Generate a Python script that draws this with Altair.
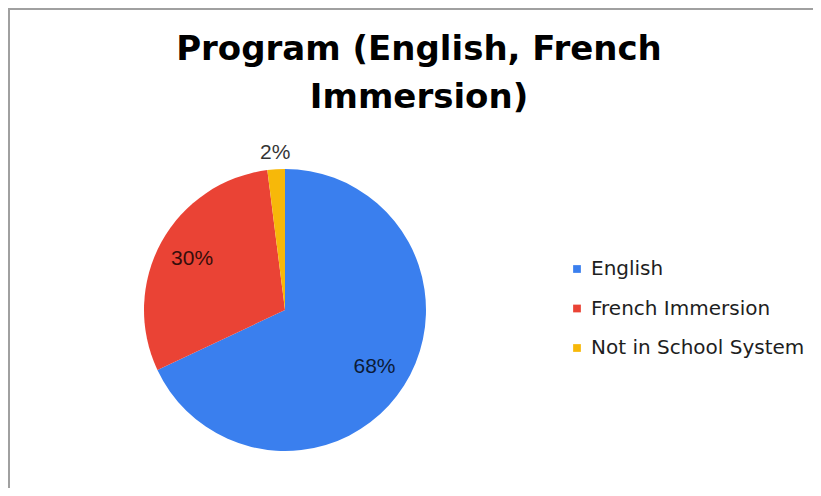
import altair as alt
import pandas as pd

# ---- data ----
CATEGORIES = ["English", "French Immersion", "Not in School System"]
VALUES = [68, 30, 2]
ORDER = [1, 2, 3]
COLORS = ["#3a7fee", "#ea4335", "#f7b809"]
TITLE_LINES = ["Program (English, French", "Immersion)"]

df = pd.DataFrame({"category": CATEGORIES, "value": VALUES, "order": ORDER})

W, H = 805, 480
CX, CY, R = 277, 302, 141

base = alt.Chart(df)

color = alt.Color(
    "category:N",
    scale=alt.Scale(domain=CATEGORIES, range=COLORS),
    sort=CATEGORIES,
    legend=alt.Legend(
        title=None,
        orient="none",
        legendX=559,
        legendY=251,
        padding=0,
        symbolType="square",
        symbolSize=60,
        symbolStrokeWidth=0,
        labelFont="DejaVu Sans",
        labelFontSize=20,
        labelColor="#1e1e1e",
        labelOffset=4,
        rowPadding=19.5,
        labelLimit=400,
    ),
)

pie = base.mark_arc(radius=R, strokeWidth=0).encode(
    theta=alt.Theta("value:Q", stack=True),
    color=color,
    order=alt.Order("order:Q"),
    x=alt.value(CX),
    y=alt.value(CY),
)

label_base = base.transform_calculate(
    lbl="format(datum.value, '.0f') + '%'"
)

inner = label_base.transform_calculate(
    txt="datum.value >= 5 ? datum.lbl : ''"
).mark_text(
    radius=106, font="Liberation Sans", fontSize=21, color="#000000", opacity=0.78,
    align="center", baseline="middle",
).encode(
    theta=alt.Theta("value:Q", stack=True),
    order=alt.Order("order:Q"),
    text="txt:N",
    x=alt.value(CX),
    y=alt.value(CY),
)

outer = label_base.transform_calculate(
    txt="datum.value < 5 ? datum.lbl : ''"
).mark_text(
    radius=157, font="Liberation Sans", fontSize=21, color="#000000", opacity=0.8,
    align="center", baseline="middle",
).encode(
    theta=alt.Theta("value:Q", stack=True),
    order=alt.Order("order:Q"),
    text="txt:N",
    x=alt.value(CX),
    y=alt.value(CY),
)

title = alt.Chart(pd.DataFrame({"t": [0]})).mark_text(
    text=TITLE_LINES,
    font="DejaVu Sans",
    fontSize=34,
    fontWeight="bold",
    lineHeight=48,
    align="center",
    baseline="alphabetic",
    color="#000000",
).encode(x=alt.value(411), y=alt.value(52))

border_left = alt.Chart(pd.DataFrame({"t": [0]})).mark_rule(
    color="#a0a0a0", strokeWidth=2
).encode(x=alt.value(1), y=alt.value(0), y2=alt.value(H))

border_top = alt.Chart(pd.DataFrame({"t": [0]})).mark_rule(
    color="#a0a0a0", strokeWidth=2
).encode(y=alt.value(1), x=alt.value(0), x2=alt.value(W))

chart = alt.layer(border_left, border_top, title, pie, inner, outer).properties(
    width=W,
    height=H,
    autosize=alt.AutoSizeParams(type="none"),
    padding=0,
    background="white",
).configure_view(strokeWidth=0)

chart.save("out.html", embed_options={"renderer": "svg", "actions": False})
